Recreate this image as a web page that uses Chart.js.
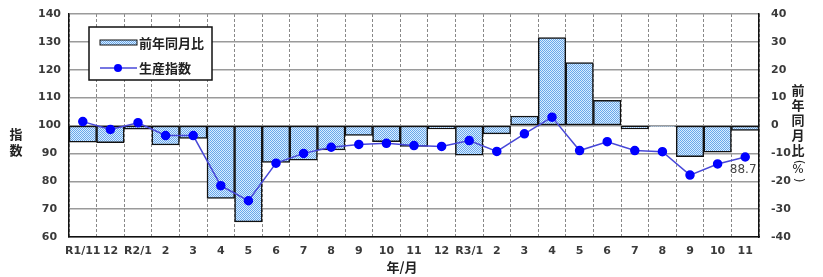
<!DOCTYPE html>
<html>
<head>
<meta charset="utf-8">
<script src="https://cdn.jsdelivr.net/npm/chart.js@4/dist/chart.umd.min.js"></script>
<style>
  html, body { margin: 0; padding: 0; background: #fff; }
  #wrap { width: 823px; height: 277px; }
</style>
</head>
<body>
<div id="wrap"><canvas id="prodChart" width="823" height="277"></canvas></div>
<script>
// 月ラベル
const months = ['R1/11', '12', 'R2/1', '2', '3', '4', '5', '6', '7', '8', '9', '10', '11',
    '12', 'R3/1', '2', '3', '4', '5', '6', '7', '8', '9', '10', '11'];

// 前年同月比 (%)
const yoyChange = [-6.0, -6.2, -1.3, -7.0, -4.6, -26.2, -34.6, -13.2, -12.4, -8.8, -3.6, -5.8, -7.5,
    -1.2, -10.6, -3.0, 3.4, 31.5, 22.6, 9.0, -1.2, -0.3, -11.2, -9.6, -1.8];

// 生産指数
const prodIndex = [101.4, 98.6, 101.0, 96.4, 96.4, 78.4, 73.0, 86.5, 90.0, 92.2, 93.2, 93.6, 92.8,
    92.5, 94.6, 90.7, 97.0, 103.0, 91.0, 94.2, 91.0, 90.6, 82.2, 86.2, 88.7];

// 軸目盛
const indexTicks = [60, 140, 10];
const yoyTicks = [-40, 40, 10];

const legendLabels = ['前年同月比', '生産指数'];
const leftTitle = '指数';
const rightTitle = '前年同月比';
const xTitle = '年/月';

const tickFont = { family: 'DejaVu Sans', size: 11, weight: 'bold' };
const tickColor = '#3a3a3a';
const jpFont = '"Noto Sans CJK JP"';

function makePattern() {
    const c = document.createElement('canvas');
    c.width = 2;
    c.height = 2;
    const g = c.getContext('2d');
    g.fillStyle = '#d8eeff';
    g.fillRect(0, 0, 2, 2);
    g.fillStyle = '#6aa6ea';
    g.fillRect(0, 0, 1, 1);
    g.fillRect(1, 1, 1, 1);
    return document.getElementById('prodChart').getContext('2d').createPattern(c, 'repeat');
}

const barPattern = makePattern();

// 縦軸の幅を固定し、ラベル分の上下余白をなくす
function fixVertical(width) {
    return s => {
        s.width = width;
        s.paddingTop = 0;
        s.paddingBottom = 0;
    };
}

// 凡例・軸タイトル・最終値ラベル
const extrasPlugin = {
    id: 'extras',
    afterDraw(chart) {
        const ctx = chart.ctx;
        const y = chart.scales.y;
        const x = chart.scales.x;
        ctx.save();

        // 凡例
        ctx.fillStyle = '#fff';
        ctx.fillRect(89, 27, 123, 53);
        ctx.strokeStyle = '#111';
        ctx.lineWidth = 1.5;
        ctx.strokeRect(89, 27, 123, 53);

        ctx.fillStyle = barPattern;
        ctx.fillRect(100, 40, 37, 5);
        ctx.strokeStyle = '#111';
        ctx.lineWidth = 1;
        ctx.strokeRect(100, 40, 37, 5);

        ctx.strokeStyle = '#4848d8';
        ctx.lineWidth = 1.5;
        ctx.beginPath();
        ctx.moveTo(100, 68);
        ctx.lineTo(137, 68);
        ctx.stroke();
        ctx.fillStyle = '#0000ff';
        ctx.beginPath();
        ctx.arc(118, 68, 4, 0, Math.PI * 2);
        ctx.fill();

        ctx.fillStyle = '#222';
        ctx.font = 'bold 13px ' + jpFont;
        ctx.textBaseline = 'middle';
        ctx.textAlign = 'left';
        ctx.fillText(legendLabels[0], 139, 43);
        ctx.fillText(legendLabels[1], 139, 68);

        // 左軸タイトル (縦書き)
        ctx.textAlign = 'center';
        [...leftTitle].forEach((ch, i) => ctx.fillText(ch, 16, 134 + i * 16));

        // 右軸タイトル (縦書き)
        [...rightTitle].forEach((ch, i) => ctx.fillText(ch, 798, 90 + i * 15));
        ctx.font = '12px "DejaVu Sans"';
        ctx.fillText('%', 798, 170);
        [['(', 162], [')', 180]].forEach(([ch, py]) => {
            ctx.save();
            ctx.translate(798, py);
            ctx.rotate(Math.PI / 2);
            ctx.fillText(ch, 0, 0);
            ctx.restore();
        });

        // 横軸タイトル
        ctx.font = 'bold 13px ' + jpFont;
        ctx.fillText(xTitle, 402, 267);

        // 最終値
        const last = prodIndex.length - 1;
        ctx.font = '12px "DejaVu Sans"';
        ctx.fillStyle = '#444';
        ctx.fillText(prodIndex[last].toFixed(1), x.getPixelForValue(last) - 2, y.getPixelForValue(prodIndex[last]) + 13);

        ctx.restore();
    }
};

new Chart(document.getElementById('prodChart'), {
    data: {
        labels: months,
        datasets: [
            {
                type: 'line',
                label: legendLabels[1],
                data: prodIndex,
                yAxisID: 'y',
                borderColor: '#4848d8',
                borderWidth: 1.5,
                pointBackgroundColor: '#0000ff',
                pointBorderColor: '#0000ff',
                pointRadius: 4,
                tension: 0,
                order: 0
            },
            {
                type: 'bar',
                label: legendLabels[0],
                data: yoyChange,
                yAxisID: 'y2',
                backgroundColor: barPattern,
                borderColor: '#111',
                borderWidth: 1.5,
                borderSkipped: false,
                barPercentage: 1,
                categoryPercentage: 1,
                order: 1
            }
        ]
    },
    options: {
        responsive: false,
        animation: false,
        layout: { padding: { top: 14, left: 0, right: 0, bottom: 0 } },
        plugins: {
            legend: { display: false },
            tooltip: { enabled: false }
        },
        scales: {
            x: {
                offset: true,
                grid: { offset: true, color: '#888', lineWidth: 1, drawTicks: false },
                border: { color: '#111', width: 1.5, dash: [3, 2] },
                ticks: { font: tickFont, color: tickColor, padding: 8, maxRotation: 0, autoSkip: false },
                afterFit: s => { s.height = 40; }
            },
            y: {
                position: 'left',
                min: indexTicks[0],
                max: indexTicks[1],
                ticks: { stepSize: indexTicks[2], font: tickFont, color: tickColor, padding: 8, crossAlign: 'center' },
                grid: { color: '#9a9a9a', lineWidth: 1.5, drawTicks: false },
                border: { color: '#111', width: 1.5 },
                afterFit: fixVertical(69)
            },
            y2: {
                position: 'right',
                min: yoyTicks[0],
                max: yoyTicks[1],
                ticks: { stepSize: yoyTicks[2], font: tickFont, color: tickColor, padding: 12 },
                grid: { drawOnChartArea: false, drawTicks: false },
                border: { color: '#111', width: 1.5 },
                afterFit: fixVertical(64)
            }
        }
    },
    plugins: [extrasPlugin]
});
</script>
</body>
</html>
